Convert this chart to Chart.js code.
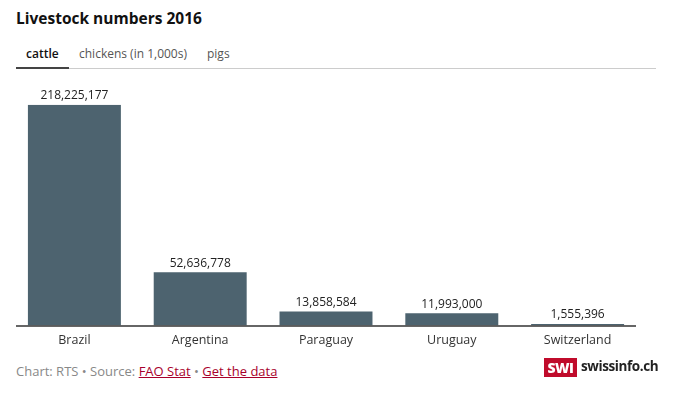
<!DOCTYPE html>
<html>
<head>
<meta charset="utf-8">
<script src="https://cdn.jsdelivr.net/npm/chart.js@4"></script>
<style>
  html, body { margin: 0; padding: 0; background: #fff; }
  body { width: 688px; height: 397px; position: relative; overflow: hidden; font-family: 'Open Sans', sans-serif; color: #222; }
  #title { position: absolute; left: 16px; top: 7px; font-size: 15.5px; font-weight: 700; color: #111; }
  #tabs { position: absolute; left: 16px; top: 40px; width: 640px; height: 28px; border-bottom: 1px solid #ccc; font-size: 12px; }
  .tab { position: absolute; top: 5px; color: #555; }
  .tab.active { color: #111; font-weight: 600; }
  #tab-line { position: absolute; left: 0; top: 27px; width: 53px; height: 2px; background: #444; }
  #chart-wrap { position: absolute; left: 0; top: 80px; width: 688px; height: 280px; }
  #footer { position: absolute; left: 16px; top: 362px; font-size: 13px; color: #888; }
  #footer a { color: #a8002b; text-decoration: underline; }
  #logo { position: absolute; left: 544px; top: 358px; height: 19px; }
  #logo .box { position: absolute; left: 0; top: 0; width: 33px; height: 19px; background: #c00b2b; color: #fff; font-weight: 800; font-size: 14px; line-height: 19px; text-align: center; letter-spacing: -0.5px; }
  #logo .name { position: absolute; left: 37px; top: -1px; font-weight: 700; font-size: 13.5px; letter-spacing: -0.4px; color: #222; white-space: nowrap; }
</style>
</head>
<body>
<div id="title">Livestock numbers 2016</div>
<div id="tabs">
  <span class="tab active" style="left:10px">cattle</span>
  <span class="tab" style="left:63px">chickens (in 1,000s)</span>
  <span class="tab" style="left:191px">pigs</span>
  <div id="tab-line"></div>
</div>
<div id="chart-wrap"><canvas id="livestockChart" width="688" height="280"></canvas></div>
<div id="footer">Chart: RTS &bull; Source: <a>FAO Stat</a> &bull; <a>Get the data</a></div>
<div id="logo"><div class="box">SWI</div><div class="name">swissinfo.ch</div></div>

<script>
const countries = ['Brazil', 'Argentina', 'Paraguay', 'Uruguay', 'Switzerland'];
const cattle = [218225177, 52636778, 13858584, 11993000, 1555396];

const barColor = '#4d636f';

// value labels above each bar + baseline from 16 to 636
const barLabels = {
    id: 'barLabels',
    afterDatasetsDraw(chart) {
        const ctx = chart.ctx;
        const meta = chart.getDatasetMeta(0);
        ctx.save();
        ctx.font = "12px 'Open Sans', sans-serif";
        ctx.fillStyle = '#222';
        ctx.textAlign = 'center';
        ctx.textBaseline = 'middle';
        meta.data.forEach((bar, i) => {
            ctx.fillText(cattle[i].toLocaleString('en-US'), bar.x, bar.y - 9);
        });
        const yBase = chart.scales.y.getPixelForValue(0);
        ctx.strokeStyle = '#333';
        ctx.lineWidth = 1.5;
        ctx.beginPath();
        ctx.moveTo(16, yBase + 0.5);
        ctx.lineTo(636, yBase + 0.5);
        ctx.stroke();
        ctx.restore();
    }
};

new Chart(document.getElementById('livestockChart'), {
    type: 'bar',
    data: {
        labels: countries,
        datasets: [{
            data: cattle,
            backgroundColor: barColor,
            barPercentage: 0.739,
            categoryPercentage: 1
        }]
    },
    options: {
        responsive: false,
        animation: false,
        layout: { padding: { left: 11.5, right: 47.5, top: 24.7, bottom: 4.5 } },
        plugins: { legend: { display: false }, tooltip: { enabled: false } },
        scales: {
            x: {
                grid: { display: false, drawTicks: false },
                border: { display: false },
                ticks: { color: '#333', font: { family: "'Open Sans', sans-serif", size: 12.5 }, padding: 7, maxRotation: 0 },
                afterFit(scale) { scale.height = 30; }
            },
            y: {
                display: false,
                min: 0,
                max: 218225177
            }
        }
    },
    plugins: [barLabels]
});
</script>
</body>
</html>
